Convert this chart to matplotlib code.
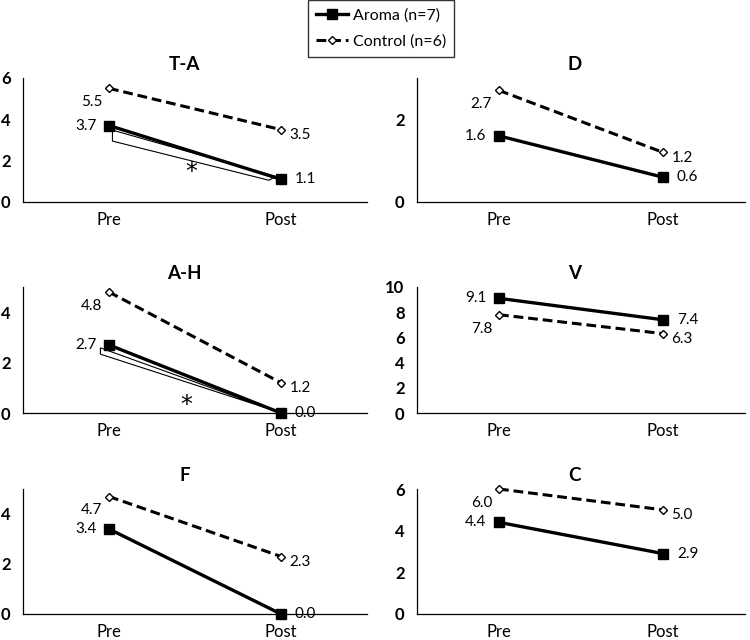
import matplotlib as mpl
mpl.use('Agg')

import matplotlib.pyplot as plt
from matplotlib.patches import Polygon
from matplotlib.lines import Line2D

plt.rcParams['font.family'] = ['Lato', 'DejaVu Sans']

phases = ['Pre', 'Post']

titles = ['T-A', 'D', 'A-H', 'V', 'F', 'C']
aroma = [[3.7, 1.1], [1.6, 0.6], [2.7, 0.0], [9.1, 7.4], [3.4, 0.0], [4.4, 2.9]]
control = [[5.5, 3.5], [2.7, 1.2], [4.8, 1.2], [7.8, 6.3], [4.7, 2.3], [6.0, 5.0]]
ymax = [6, 3, 5, 10, 5, 6]
ystep = [2, 2, 2, 2, 2, 2]

# significance marks (panel index -> bracket offsets below the aroma line, star position)
signif = {
    0: dict(poly=[(0.02, -0.17), (0.02, -0.7), (0.93, -0.23), (0.97, 0.06)], star=(0.48, 1.45)),
    2: dict(poly=[(-0.05, -0.25), (-0.05, -0.5), (0.98, 0.0), (1.0, 0.0)], star=(0.45, 0.3)),
}

# axes boxes in pixels (left, top, right, bottom) for a 750x640 canvas
W, H = 750, 640
cols = [(23, 367), (417, 745)]
rows = [(78, 202), (287, 413), (489, 614)]

fig = plt.figure(figsize=(7.5, 6.4), dpi=100)

for i, name in enumerate(titles):
    c, r = cols[i % 2], rows[i // 2]
    ax = fig.add_axes([c[0] / W, 1 - r[1] / H, (c[1] - c[0]) / W, (r[1] - r[0]) / H])
    x = list(range(len(phases)))
    a, k = aroma[i], control[i]

    ax.plot(x, k, color='black', lw=2.2, ls=(0, (3.2, 1.6)), marker='D', ms=4.5,
            mfc='white', mec='black', mew=1.0, zorder=3, clip_on=False)
    ax.plot(x, a, color='black', lw=2.4, marker='s', ms=7.5, zorder=4, clip_on=False)

    # data labels
    ax.annotate(f'{k[0]:.1f}', (0, k[0]), xytext=(-5, -10), textcoords='offset points',
                ha='right', va='center', fontsize=11)
    ax.annotate(f'{a[0]:.1f}', (0, a[0]), xytext=(-9, 0), textcoords='offset points',
                ha='right', va='center', fontsize=11)
    ax.annotate(f'{k[1]:.1f}', (1, k[1]), xytext=(6, -4), textcoords='offset points',
                ha='left', va='center', fontsize=11)
    ax.annotate(f'{a[1]:.1f}', (1, a[1]), xytext=(10, 0), textcoords='offset points',
                ha='left', va='center', fontsize=11)

    if i in signif:
        s = signif[i]
        pts = []
        for px, dy in s['poly']:
            base = a[0] + (a[1] - a[0]) * px
            pts.append((px, base + dy))
        ax.add_patch(Polygon(pts, closed=True, facecolor='white', edgecolor='black',
                             lw=0.8, zorder=2))
        ax.text(s['star'][0], s['star'][1], '*', ha='center', va='center',
                fontsize=17, family='DejaVu Sans')

    ax.set_xlim(-0.5, 1.5)
    ax.set_ylim(0, ymax[i])
    ax.set_yticks(range(0, ymax[i] + 1, ystep[i]))
    ax.set_xticks(x)
    ax.set_xticklabels(phases, fontsize=12)
    for lab in ax.get_yticklabels():
        lab.set_fontweight('bold')
        lab.set_fontsize(12)
    ax.tick_params(length=0)
    ax.tick_params(axis='x', pad=7)
    ax.tick_params(axis='y', pad=9)
    ax.spines['top'].set_visible(False)
    ax.spines['right'].set_visible(False)
    ax.spines['left'].set_linewidth(0.9)
    ax.spines['bottom'].set_linewidth(0.9)
    ax.set_title(name, fontsize=13.5, fontweight='bold', pad=6, x=0.47 if i % 2 == 0 else 0.48)

handles = [
    Line2D([], [], color='black', lw=2.4, marker='s', ms=7.5),
    Line2D([], [], color='black', lw=2.2, ls=(0, (3.2, 1.6)), marker='D', ms=4.5,
           mfc='white', mec='black', mew=1.0),
]
leg = fig.legend(handles, ['Aroma (n=7)', 'Control (n=6)'], loc='upper left',
                 bbox_to_anchor=(308 / W, 1.0), fontsize=11.5, frameon=True,
                 fancybox=False, edgecolor='black', handlelength=2.0,
                 borderaxespad=0, labelspacing=0.75, handletextpad=0.3, borderpad=0.5)
leg.get_frame().set_linewidth(1.0)

plt.savefig('out.png', dpi=100)
plt.close()
